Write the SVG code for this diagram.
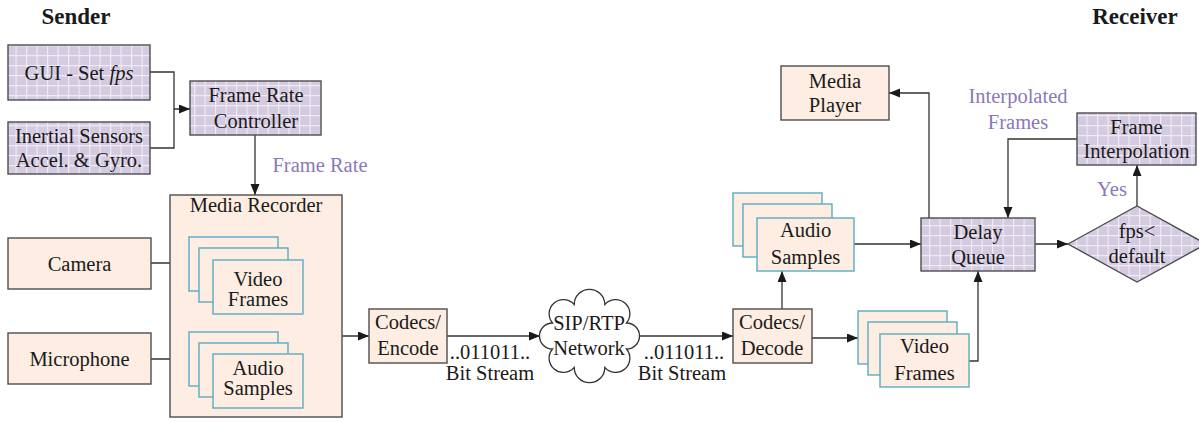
<svg xmlns="http://www.w3.org/2000/svg" width="1199" height="422" viewBox="0 0 1199 422">
<defs>
<pattern id="grid" patternUnits="userSpaceOnUse" width="10.5" height="10" x="5" y="5">
<rect width="10.5" height="10" fill="#d4cbe1"/>
<path d="M0,0.5 H10.5 M0.5,0 V10" stroke="#efebf4" stroke-width="1.4" fill="none"/>
</pattern>
<marker id="arr" markerUnits="userSpaceOnUse" markerWidth="12" markerHeight="10" refX="11" refY="4.5" orient="auto">
<path d="M0,0 L11,4.5 L0,9 z" fill="#1a1a1a"/>
</marker>
</defs>
<style>
text{font-family:'Liberation Serif','Tinos','Times New Roman','DejaVu Serif',serif;font-size:20.5px;fill:#1a1a1a;text-anchor:middle}
.title{font-weight:bold;font-size:23px}
.lbl{fill:#8c78b8}
.peach{fill:#fdede2;stroke:#4d4d4d;stroke-width:1.4}
.grid{fill:url(#grid);stroke:#4d4d4d;stroke-width:1.4}
.stk{fill:#fdede2;stroke:#5aacbf;stroke-width:1.4}
.c{fill:none;stroke:#333;stroke-width:1.3}
.a{marker-end:url(#arr)}
.cloud{fill:#ffffff;stroke:#333;stroke-width:1.3}
</style>
<rect width="1199" height="422" fill="#ffffff"/>
<text class="title" x="76" y="24" font-family="Liberation Serif, serif">Sender</text>
<text class="title" x="1135" y="24" font-family="Liberation Serif, serif">Receiver</text>

<g id="connectors">
<path class="c a" d="M150,72 H174 V109 H190"/>
<path class="c" d="M150,148 H174 V109"/>
<path class="c a" d="M255,135 V195"/>
<path class="c a" d="M151,263 H189"/>
<path class="c a" d="M151,359 H189"/>
<path class="c a" d="M303,287 H326 V336 H369"/>
<path class="c" d="M303,381 H326 V336"/>
<path class="c a" d="M447,336 H540"/>
<path class="c a" d="M639,336 H733"/>
<path class="c a" d="M782,309 V271"/>
<path class="c a" d="M812,338 H858"/>
<path class="c a" d="M854,244 H921"/>
<path class="c a" d="M969,361 H978 V271"/>
<path class="c a" d="M929,218 V93 H889"/>
<path class="c a" d="M1035,244 H1068"/>
<path class="c a" d="M1137,206 V165"/>
<path class="c a" d="M1077,139 H1008 V218"/>
</g>

<g id="gui">
<rect class="grid" x="8" y="45" width="142" height="55"/>
<text x="79" y="80">GUI - Set <tspan font-style="italic">fps</tspan></text>
</g>
<g id="inertial">
<rect class="grid" x="8" y="122" width="142" height="52"/>
<text x="79" y="143">Inertial Sensors</text>
<text x="79" y="167">Accel. &amp; Gyro.</text>
</g>
<g id="frc">
<rect class="grid" x="190" y="81" width="131" height="54"/>
<text x="256" y="102">Frame Rate</text>
<text x="256" y="128">Controller</text>
</g>
<text class="lbl" x="320" y="172">Frame Rate</text>

<g id="media-recorder">
<rect class="peach" x="170" y="195" width="172" height="222"/>
<text x="256" y="212">Media Recorder</text>
</g>
<g id="camera">
<rect class="peach" x="8" y="238" width="143" height="51"/>
<text x="79.5" y="271">Camera</text>
</g>
<g id="microphone">
<rect class="peach" x="8" y="333" width="143" height="51"/>
<text x="79.5" y="366">Microphone</text>
</g>
<g id="video-frames-send">
<rect class="stk" x="189" y="237" width="89" height="54"/>
<rect class="stk" x="199" y="248" width="89" height="54"/>
<rect class="stk" x="213" y="260" width="90" height="54"/>
<text x="258" y="286">Video</text>
<text x="258" y="306">Frames</text>
</g>
<g id="audio-samples-send">
<rect class="stk" x="189" y="332" width="89" height="54"/>
<rect class="stk" x="199" y="343" width="89" height="54"/>
<rect class="stk" x="213" y="354" width="90" height="54"/>
<text x="258" y="375">Audio</text>
<text x="258" y="395">Samples</text>
</g>
<g id="encode">
<rect class="peach" x="369" y="309" width="78" height="54"/>
<text x="408" y="328.5">Codecs/</text>
<text x="408" y="355">Encode</text>
</g>
<text x="490" y="359">..011011..</text>
<text x="490" y="380">Bit Stream</text>
<g id="network">
<path class="cloud" d="M626.5,349 A14.2,14.2 0 0 1 604.8,367.4 A15.3,15.3 0 0 1 574.2,367.4 A14.2,14.2 0 0 1 552.5,349 A13,13 0 0 1 552.5,323 A14.2,14.2 0 0 1 574.2,304.6 A15.3,15.3 0 0 1 604.8,304.6 A14.2,14.2 0 0 1 626.5,323 A13,13 0 0 1 626.5,349 z"/>
<text x="589" y="330">SIP/RTP</text>
<text x="589" y="355">Network</text>
</g>
<text x="684" y="359">..011011..</text>
<text x="682" y="380">Bit Stream</text>
<g id="decode">
<rect class="peach" x="733" y="309" width="79" height="54"/>
<text x="772" y="328.5">Codecs/</text>
<text x="772" y="355">Decode</text>
</g>
<g id="audio-samples-recv">
<rect class="stk" x="733" y="193" width="89" height="53"/>
<rect class="stk" x="743" y="204" width="89" height="53"/>
<rect class="stk" x="757" y="218" width="97" height="53"/>
<text x="805.5" y="237">Audio</text>
<text x="805.5" y="263.5">Samples</text>
</g>
<g id="video-frames-recv">
<rect class="stk" x="858" y="311" width="89" height="53"/>
<rect class="stk" x="868" y="322" width="89" height="53"/>
<rect class="stk" x="880" y="334" width="89" height="53"/>
<text x="924.5" y="353">Video</text>
<text x="924.5" y="380">Frames</text>
</g>
<g id="delay-queue">
<rect class="grid" x="921" y="218" width="114" height="53"/>
<text x="978" y="238.5">Delay</text>
<text x="978" y="263.5">Queue</text>
</g>
<g id="decision">
<polygon class="grid" points="1068,244 1137,206 1206,244 1137,282"/>
<text x="1137" y="238">fps&lt;</text>
<text x="1137" y="263">default</text>
</g>
<text class="lbl" x="1112" y="196">Yes</text>
<g id="frame-interpolation">
<rect class="grid" x="1077" y="113" width="119" height="52"/>
<text x="1136.5" y="134">Frame</text>
<text x="1136.5" y="157.5">Interpolation</text>
</g>
<text class="lbl" x="1018" y="103">Interpolated</text>
<text class="lbl" x="1018" y="128.5">Frames</text>
<g id="media-player">
<rect class="peach" x="781" y="66" width="108" height="54"/>
<text x="835" y="87.5">Media</text>
<text x="835" y="112">Player</text>
</g>
</svg>
